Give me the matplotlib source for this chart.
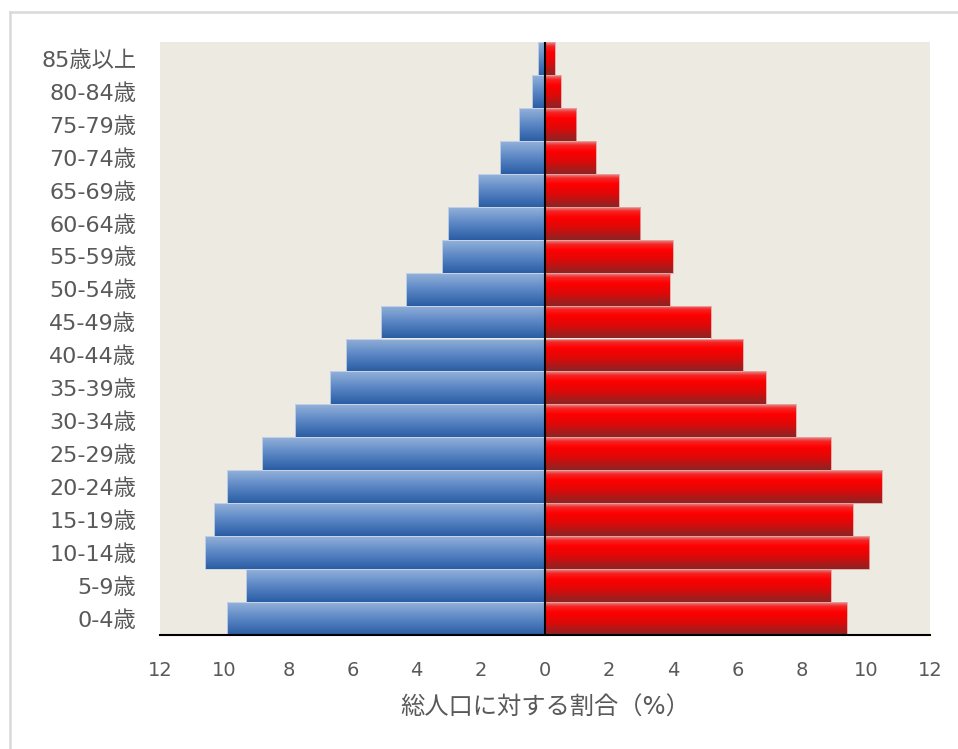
import numpy as np
import matplotlib
matplotlib.use("Agg")
import matplotlib.pyplot as plt
from matplotlib.colors import LinearSegmentedColormap
from matplotlib.lines import Line2D

plt.rcParams['font.family'] = ['DejaVu Sans', 'Noto Sans CJK JP']

# Age groups, bottom to top
age_groups = ["0-4歳", "5-9歳", "10-14歳", "15-19歳", "20-24歳", "25-29歳",
              "30-34歳", "35-39歳", "40-44歳", "45-49歳", "50-54歳", "55-59歳",
              "60-64歳", "65-69歳", "70-74歳", "75-79歳", "80-84歳", "85歳以上"]

# Share of total population (%), left side and right side
male = [9.92, 9.32, 10.60, 10.32, 9.92, 8.81, 7.80, 6.71, 6.21, 5.12,
        4.32, 3.21, 3.01, 2.09, 1.41, 0.81, 0.41, 0.22]
female = [9.41, 8.90, 10.10, 9.60, 10.50, 8.90, 7.81, 6.88, 6.16, 5.17,
          3.89, 3.98, 2.97, 2.30, 1.58, 0.98, 0.49, 0.31]

x_ticks = [-12, -10, -8, -6, -4, -2, 0, 2, 4, 6, 8, 10, 12]
x_tick_labels = [str(abs(t)) for t in x_ticks]
x_label = "総人口に対する割合（%）"

gray = "#595959"
bg = "#EDEBE1"

fig = plt.figure(figsize=(9.58, 7.49), dpi=100)
ax = fig.add_axes([160 / 958, 1 - 635 / 749, 770 / 958, 593 / 749])
ax.set_facecolor(bg)

# Vertical gradients (top -> bottom)
blue_cmap = LinearSegmentedColormap.from_list(
    "blue_grad", [(0.0, "#93B1DA"), (0.5, "#5A86C4"), (1.0, "#2B5DA4")])
red_cmap = LinearSegmentedColormap.from_list(
    "red_grad", [(0.0, "#E58A8A"), (0.12, "#F52525"), (0.3, "#FF0000"),
                 (0.6, "#E00808"), (1.0, "#8C2424")])
grad = np.linspace(0, 1, 64).reshape(-1, 1)

y = np.arange(len(age_groups))
bar_h = 1.0
left_bars = ax.barh(y, [-v for v in male], height=bar_h, color="none",
                    edgecolor="#C9D6EA", linewidth=0.6, zorder=2)
right_bars = ax.barh(y, female, height=bar_h, color="none",
                     edgecolor="#E9A0A0", linewidth=0.6, zorder=2)

for bars, cmap in ((left_bars, blue_cmap), (right_bars, red_cmap)):
    for rect in bars:
        x0, y0 = rect.get_x(), rect.get_y()
        w, h = rect.get_width(), rect.get_height()
        im = ax.imshow(grad, cmap=cmap, aspect="auto", origin="upper",
                       extent=[x0, x0 + w, y0, y0 + h], zorder=1,
                       interpolation="bilinear")
        im.set_clip_path(rect)

ax.set_xlim(-12, 12)
ax.set_ylim(-0.5, len(age_groups) - 0.5)

ax.axvline(0, color="black", linewidth=1.5, zorder=3)

for s in ("top", "right", "left"):
    ax.spines[s].set_visible(False)
ax.spines["bottom"].set_color("black")
ax.spines["bottom"].set_linewidth(1.5)

ax.set_xticks(x_ticks)
ax.set_xticklabels(x_tick_labels, fontsize=14, color=gray)
ax.set_yticks(y)
ax.set_yticklabels(age_groups, fontsize=16, color=gray)
ax.tick_params(axis="both", length=0)
ax.tick_params(axis="x", pad=19)
ax.tick_params(axis="y", pad=17)
ax.set_xlabel(x_label, fontsize=17.5, color=gray, labelpad=11)

# Light frame around the chart
fig.add_artist(Line2D([10 / 958, 1.0], [1 - 12 / 749, 1 - 12 / 749],
                      transform=fig.transFigure, color="#D9D9D9", linewidth=1.8))
fig.add_artist(Line2D([10 / 958, 10 / 958], [0.0, 1 - 12 / 749],
                      transform=fig.transFigure, color="#D9D9D9", linewidth=1.8))

fig.savefig("out.png", dpi=100, facecolor="white")
